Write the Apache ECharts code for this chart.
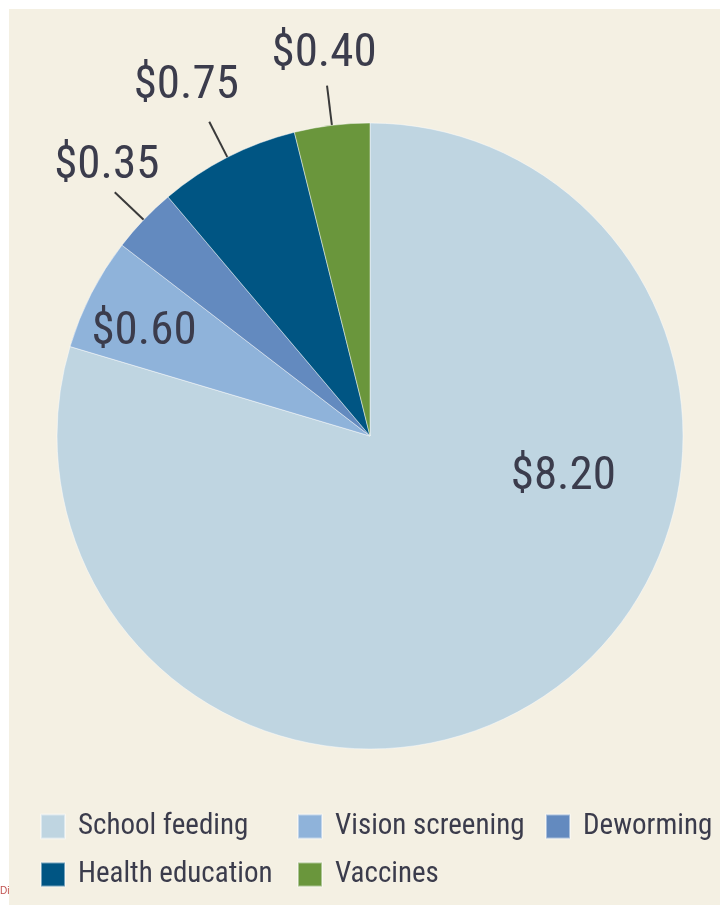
<!DOCTYPE html>
<html>
<head>
<meta charset="utf-8">
<script src="https://cdn.jsdelivr.net/npm/echarts@6/dist/echarts.min.js"></script>
<style>
  html, body { margin: 0; padding: 0; background: #ffffff; }
  #main { width: 720px; height: 905px; }
</style>
</head>
<body>
<div id="main"></div>
<script>
var categories = ['School feeding', 'Vision screening', 'Deworming', 'Health education', 'Vaccines'];
var values = [8.20, 0.60, 0.35, 0.75, 0.40];
var colors = ['#bfd5e1', '#8fb3da', '#638abf', '#005583', '#6a963c'];

var textColor = '#3b3c4c';
var fontName = '"Liberation Sans Narrow", "Arial Narrow", "Roboto Condensed", sans-serif';

// nudges for the outside labels (x shift, gap above the leader line end)
var labelShiftX = [0, 0, -8, -23, -3];
var labelGap = [0, 0, 2, 12, 8];

var myChart = echarts.init(document.getElementById('main'));

var pieData = [];
for (var i = 0; i < categories.length; i++) {
    pieData.push({
        name: categories[i],
        value: values[i],
        itemStyle: { color: colors[i] },
        // the two big slices keep their label inside
        label: { position: i < 2 ? 'inside' : 'outside' },
        labelLine: { show: i >= 2 }
    });
}

function makeLegend(names, left) {
    return {
        orient: 'vertical',
        left: left,
        top: 812,
        height: 120,
        padding: 0,
        data: names,
        icon: 'rect',
        itemWidth: 24,
        itemHeight: 24,
        itemGap: 19,
        selectedMode: false,
        textStyle: {
            color: textColor,
            fontFamily: fontName,
            fontSize: 29,
            lineHeight: 24,
            padding: [0, 0, 0, 8]
        }
    };
}

option = {
    backgroundColor: '#ffffff',
    animation: false,
    graphic: [{
        type: 'rect',
        z: -10,
        shape: { x: 9, y: 9, width: 720, height: 905 },
        style: { fill: '#f4f0e3' }
    }, {
        type: 'text',
        left: 0,
        top: 886,
        style: { text: 'Di', fill: '#c0504d', font: '10px sans-serif' }
    }],
    legend: [
        makeLegend(['School feeding', 'Health education'], 40),
        makeLegend(['Vision screening', 'Vaccines'], 297),
        makeLegend(['Deworming'], 545)
    ],
    series: [{
        type: 'pie',
        center: [370, 436],
        radius: 313,
        startAngle: 90,
        clockwise: true,
        avoidLabelOverlap: false,
        itemStyle: { borderColor: 'rgba(255,255,255,0.45)', borderWidth: 1 },
        label: {
            formatter: function (p) { return '$' + p.value.toFixed(2); },
            color: textColor,
            fontFamily: fontName,
            fontSize: 47
        },
        labelLine: {
            length: 40,
            length2: 0,
            lineStyle: { color: '#3a3a3a', width: 2 }
        },
        labelLayout: function (p) {
            if (p.dataIndex === 0) return { dx: 98, dy: -87 };
            if (p.dataIndex === 1) return { dx: -84, dy: -31 };
            var pts = p.labelLinePoints;
            if (!pts) return {};
            var end = pts[pts.length - 1];
            return {
                x: end[0] + labelShiftX[p.dataIndex],
                y: end[1] - labelGap[p.dataIndex],
                align: 'center',
                verticalAlign: 'bottom',
                labelLinePoints: pts
            };
        },
        emphasis: { disabled: true },
        data: pieData
    }]
};

myChart.setOption(option);
</script>
</body>
</html>
